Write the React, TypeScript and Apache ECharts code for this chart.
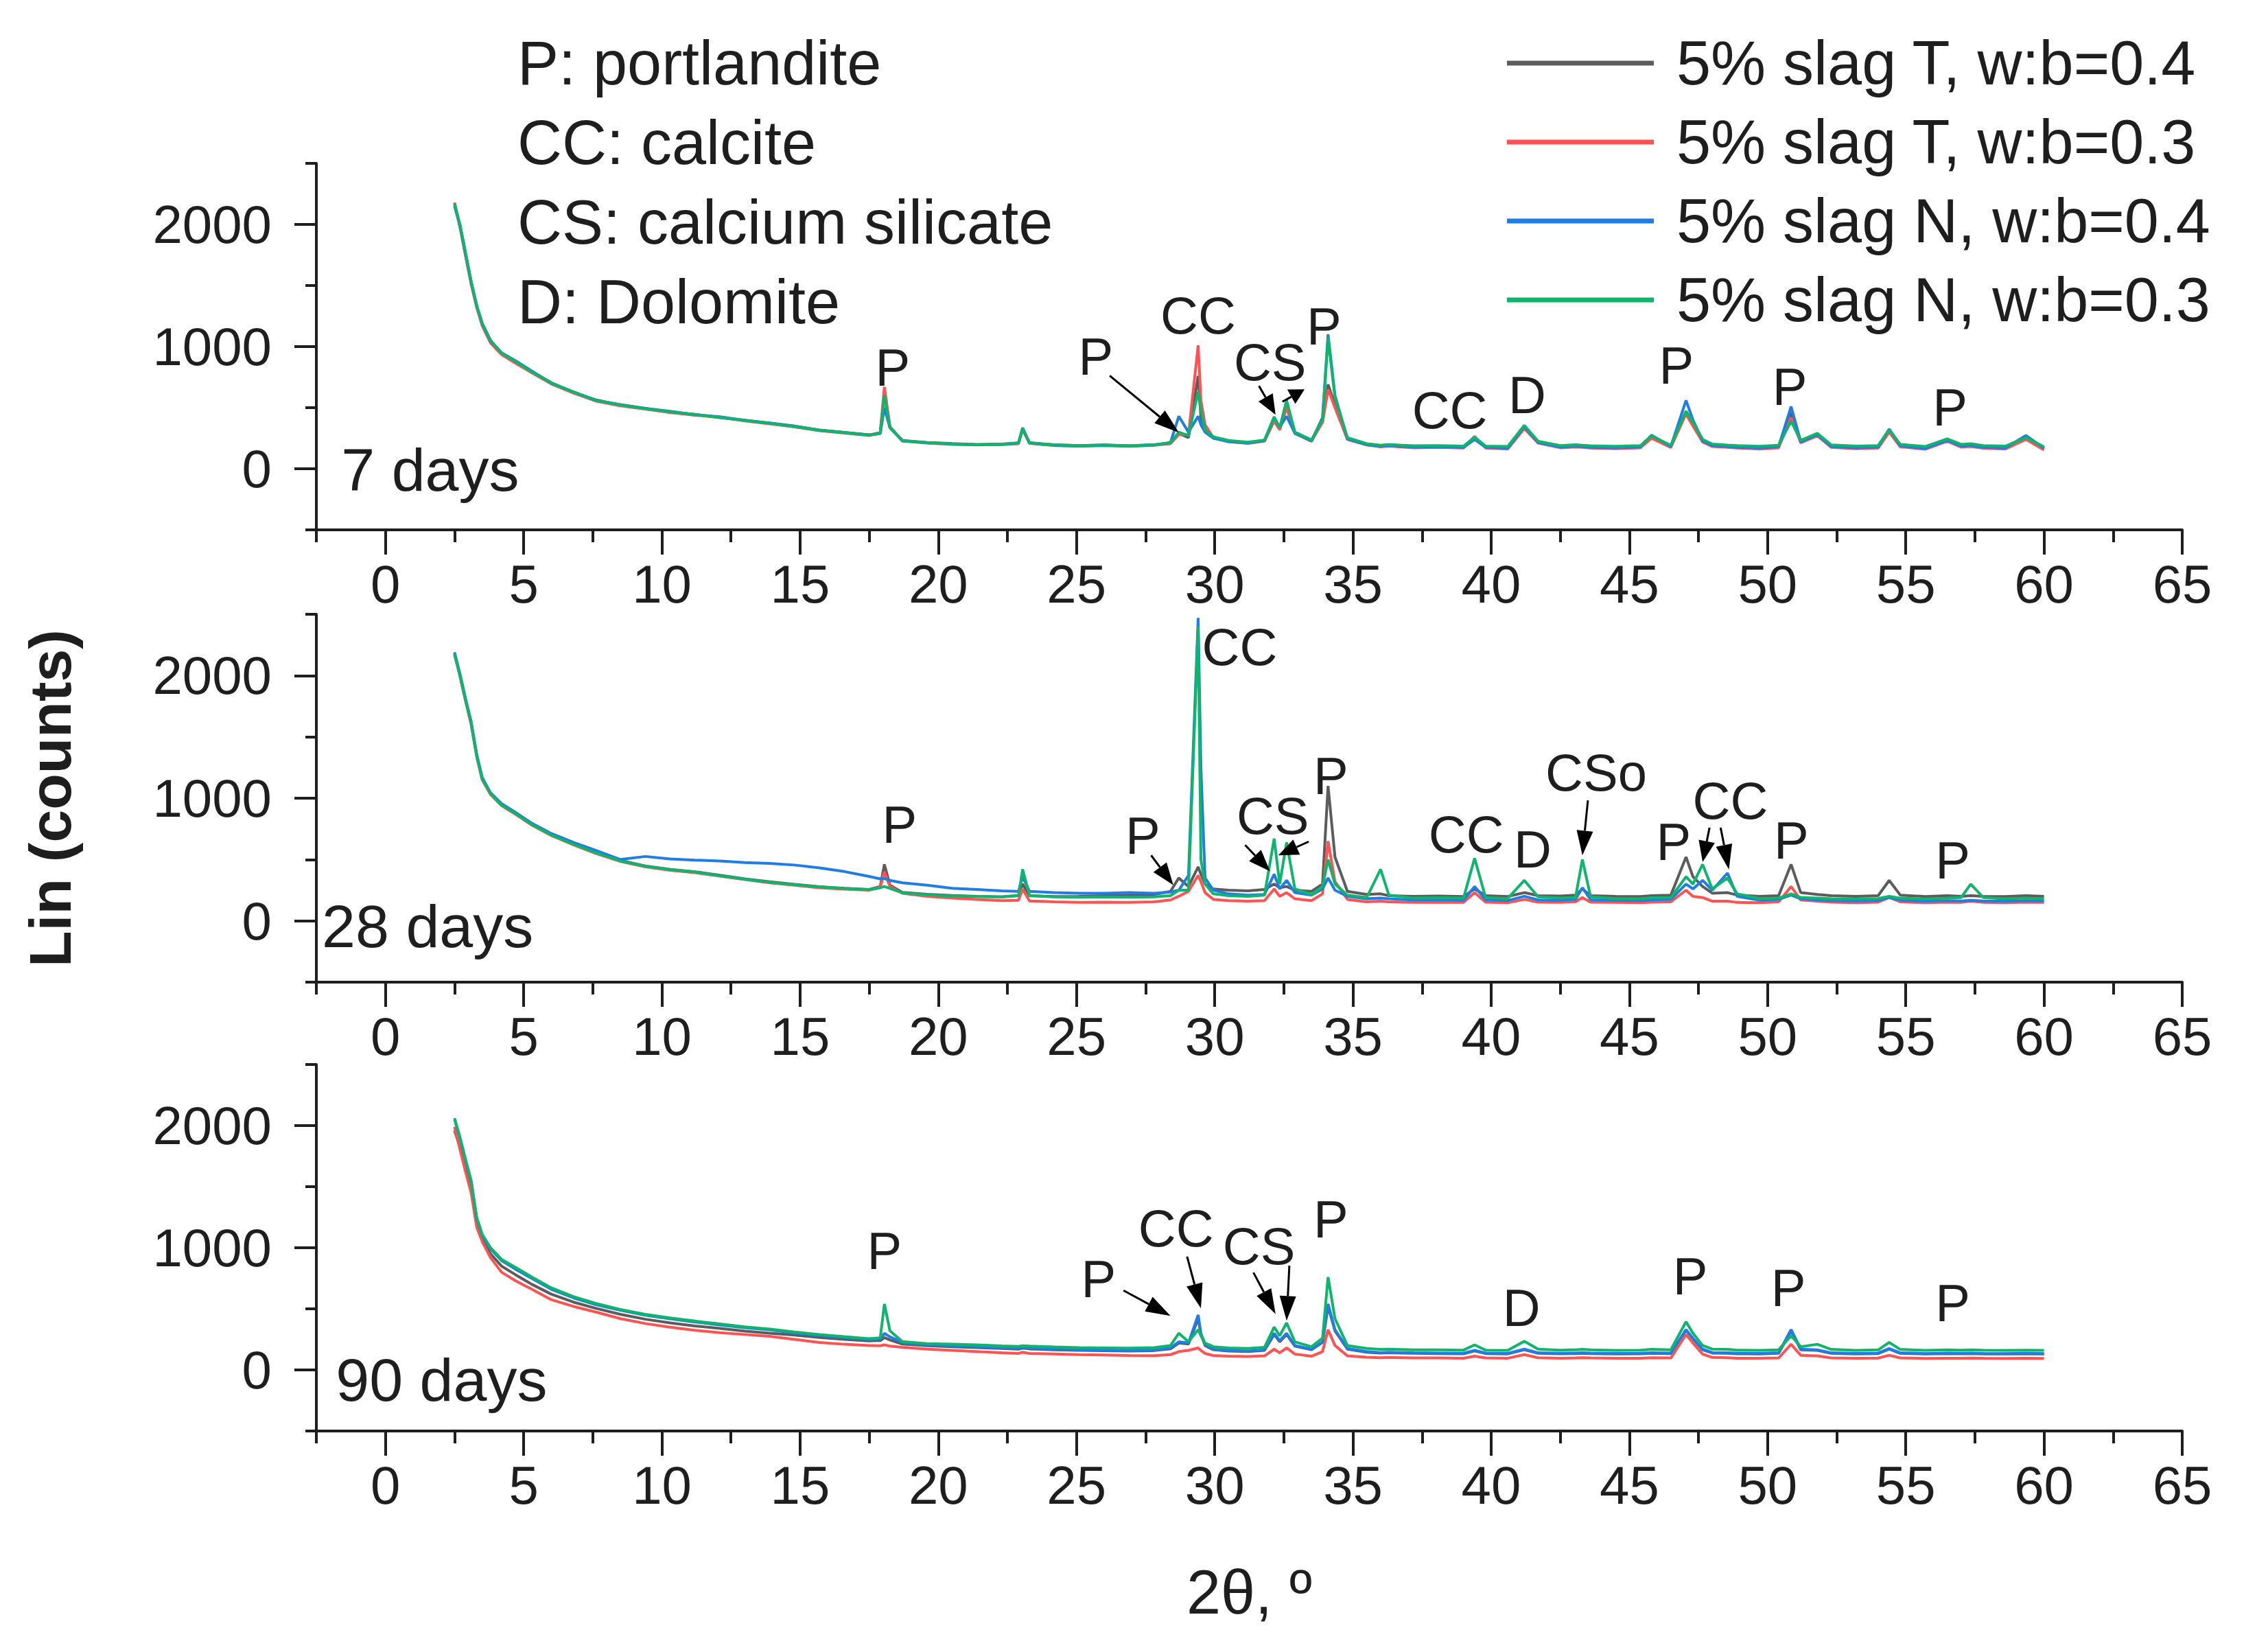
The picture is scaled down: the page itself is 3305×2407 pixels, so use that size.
import React, { useEffect, useRef } from "react";
import * as echarts from "echarts";

// 2θ sampling positions shared by every trace
const twoTheta = [
  2.5, 2.7, 2.9, 3.1, 3.3, 3.5, 3.8, 4.2, 4.7, 5.3,
  6.0, 6.8, 7.6, 8.5, 9.4, 10.3, 11.2, 12.1, 13.0, 13.9,
  14.8, 15.7, 16.6, 17.5, 17.9, 18.05, 18.25, 18.7, 19.6, 20.5,
  21.4, 22.3, 22.9, 23.05, 23.3, 24.2, 25.1, 26.0, 26.9, 27.8,
  28.4, 28.7, 29.05, 29.4, 29.5, 29.65, 29.95, 30.5, 31.2, 31.8,
  32.15, 32.35, 32.6, 32.9, 33.5, 33.9, 34.1, 34.35, 34.8, 35.5,
  36.0, 36.3, 37.2, 38.1, 39.0, 39.4, 39.8, 40.6, 41.2, 41.7,
  42.5, 43.05, 43.3, 43.6, 44.5, 45.4, 45.8, 46.5, 47.05, 47.3,
  47.65, 48.0, 48.55, 48.9, 49.7, 50.4, 50.85, 51.2, 51.8, 52.3,
  53.2, 54.0, 54.4, 54.8, 55.7, 56.5, 57.0, 57.35, 57.8, 58.6,
  59.35, 60.0,
];

// 7 days
const d7SlagT04 = [
  2160, 1990, 1760, 1530, 1330, 1190, 1050, 945, 880, 795,
  705, 625, 565, 520, 495, 462, 445, 418, 398, 372,
  348, 318, 298, 278, 292, 620, 340, 232, 215, 206,
  198, 202, 212, 325, 214, 196, 190, 195, 188, 196,
  212, 290, 255, 760, 420, 330, 258, 228, 214, 232,
  400, 330, 520, 300, 232, 390, 690, 520, 250, 202,
  190, 196, 184, 186, 180, 250, 182, 174, 340, 222,
  186, 192, 188, 184, 178, 186, 265, 188, 470, 370,
  235, 198, 190, 184, 178, 188, 460, 228, 285, 190,
  180, 184, 315, 196, 174, 238, 194, 198, 184, 178,
  258, 170,
];
const d7SlagT03 = [
  2180, 1970, 1740, 1510, 1320, 1170, 1030, 935, 865, 785,
  695, 620, 555, 515, 488, 460, 438, 422, 392, 368,
  342, 312, 292, 272, 300, 670, 345, 228, 210, 200,
  195, 198, 205, 320, 208, 190, 186, 190, 185, 192,
  205, 280, 280, 1010, 560, 360, 255, 222, 208, 226,
  390, 320, 500, 290, 225, 380, 650, 500, 240, 195,
  180, 186, 172, 175, 170, 265, 170, 162, 330, 210,
  172, 178, 176, 170, 165, 172, 250, 175, 450, 350,
  220, 182, 176, 170, 162, 172, 420, 212, 270, 176,
  165, 170, 300, 180, 160, 225, 178, 182, 168, 162,
  240, 155,
];
const d7SlagN04 = [
  2150, 1985, 1750, 1525, 1340, 1185, 1045, 950, 885, 800,
  700, 630, 560, 525, 495, 470, 442, 425, 396, 375,
  350, 315, 296, 275, 288, 500, 335, 228, 212, 202,
  196, 200, 208, 335, 210, 192, 185, 192, 184, 194,
  215, 430, 300, 430, 360, 300, 250, 222, 210, 230,
  420, 340, 430, 290, 228, 420, 1100, 600, 245, 196,
  185, 190, 178, 180, 175, 240, 176, 168, 345, 215,
  178, 186, 182, 176, 172, 180, 275, 182, 560, 400,
  228, 190, 182, 176, 170, 182, 510, 220, 280, 182,
  172, 178, 325, 188, 166, 232, 186, 190, 176, 170,
  272, 168,
];
const d7SlagN03 = [
  2170, 1995, 1765, 1535, 1335, 1190, 1050, 948, 878, 792,
  702, 628, 562, 522, 492, 466, 444, 420, 395, 372,
  346, 316, 296, 276, 290, 600, 338, 230, 214, 204,
  198, 201, 210, 330, 212, 195, 190, 194, 188, 197,
  212, 300, 270, 630, 480, 320, 262, 232, 218, 235,
  425, 335, 560, 300, 235, 400, 1070, 580, 255, 205,
  192, 198, 188, 190, 185, 258, 186, 182, 355, 225,
  190, 196, 192, 188, 184, 190, 268, 192, 470, 380,
  240, 202, 194, 190, 184, 192, 390, 232, 290, 195,
  186, 190, 320, 200, 182, 245, 200, 205, 190, 185,
  255, 180,
];

// 28 days
const d28SlagT04 = [
  2170, 2000, 1800, 1610, 1350, 1160, 1035, 950, 880, 790,
  705, 630, 560, 492, 448, 420, 400, 372, 342, 318,
  298, 278, 266, 256, 280, 460, 290, 232, 216, 206,
  200, 196, 206, 300, 205, 198, 200, 205, 210, 215,
  240, 350, 280, 440, 380, 300, 260, 250, 245, 255,
  300, 270, 280, 250, 240, 300, 1100, 520, 240, 215,
  220, 205, 200, 202, 198, 260, 205, 198, 230, 205,
  202, 210, 260, 205, 200, 198, 205, 210, 520, 360,
  280, 225, 230, 210, 200, 205, 460, 230, 215, 205,
  200, 205, 330, 210, 198, 205, 200, 205, 200, 198,
  205, 200,
];
const d28SlagT03 = [
  2180, 1990, 1790, 1600, 1340, 1150, 1030, 940, 870, 780,
  695, 620, 550, 485, 440, 412, 392, 365, 336, 310,
  290, 270, 258, 250, 275, 400, 280, 225, 200, 185,
  175, 165, 168, 260, 162, 155, 150, 152, 150, 155,
  170, 200, 240, 370, 320, 230, 175, 165, 160, 165,
  260, 200, 230, 180, 165, 220, 650, 320, 175, 155,
  160, 155, 150, 152, 150, 230, 152, 148, 175, 152,
  150, 155, 190, 152, 150, 148, 152, 155, 250, 200,
  190, 160, 160, 150, 148, 155, 280, 170, 160, 152,
  148, 152, 190, 155, 148, 152, 150, 160, 150, 148,
  152, 150,
];
const d28SlagN04 = [
  2190, 2010, 1810, 1625, 1360, 1170, 1045, 955, 885, 795,
  712, 640, 575, 500, 525, 505, 495, 488, 475, 468,
  455, 432, 402, 362, 342, 345, 330, 310, 290, 265,
  255, 245, 240, 360, 240, 230, 225, 225, 230, 225,
  235, 250, 370, 2470, 1250, 350, 250, 220, 210, 215,
  380, 260, 330, 230, 210, 260, 350, 250, 200, 180,
  185, 180, 170, 172, 168, 280, 172, 165, 200, 170,
  168, 175, 270, 172, 168, 165, 172, 175, 300, 260,
  330, 250, 390, 200, 168, 175, 210, 180, 170, 165,
  162, 165, 190, 168, 160, 165, 162, 168, 162, 160,
  165, 162,
];
const d28SlagN03 = [
  2175, 1995, 1795, 1615, 1345, 1155, 1040, 945, 875, 785,
  700, 625, 556, 488, 445, 418, 398, 368, 340, 315,
  295, 276, 264, 254, 270, 280, 265, 228, 212, 202,
  198, 195, 205, 420, 205, 195, 192, 195, 192, 196,
  205, 250, 250, 2400, 500, 300, 220, 205, 200, 210,
  670, 300, 640, 260, 215, 280, 500, 300, 210, 190,
  420, 210, 185, 188, 185, 510, 190, 182, 330, 195,
  185, 190, 500, 195, 182, 180, 188, 190, 360, 300,
  460, 260, 350, 220, 182, 185, 220, 190, 185, 180,
  178, 182, 200, 185, 178, 185, 190, 300, 190, 180,
  185, 180,
];

// 90 days
const d90SlagT04 = [
  1960, 1820, 1650, 1480, 1200, 1070, 950, 850, 780, 700,
  620, 555, 505, 455, 415, 385, 360, 340, 318, 300,
  285, 265, 250, 238, 240, 265, 245, 212, 198, 190,
  182, 175, 170, 178, 172, 165, 160, 157, 155, 158,
  172, 220, 212, 420, 290, 200, 165, 155, 150, 160,
  290, 230, 290, 195, 165, 225, 520, 320, 170, 145,
  138, 140, 136, 134, 132, 155, 134, 131, 165, 136,
  132, 134, 136, 134, 131, 132, 136, 134, 325, 255,
  165, 138, 136, 132, 131, 136, 320, 165, 160, 136,
  131, 134, 170, 136, 130, 134, 132, 134, 131, 130,
  132, 130,
];
const d90SlagT03 = [
  1990, 1800, 1620, 1450, 1170, 1050, 920, 800, 730, 660,
  575, 520, 475, 420, 380, 350, 325, 305, 290, 275,
  250, 225, 210, 200, 198, 205, 195, 185, 170, 160,
  150, 140, 135, 145, 135, 130, 125, 122, 118, 116,
  125, 150, 160, 180, 160, 135, 118, 112, 110, 115,
  170, 140, 180, 130, 112, 150, 330, 200, 115, 104,
  100, 102, 98, 98, 96, 112, 98, 96, 125, 100,
  96, 98, 100, 98, 95, 96, 100, 98, 290, 220,
  130, 102, 100, 96, 95, 98, 210, 120, 115, 98,
  95, 97, 120, 98, 94, 96, 95, 97, 95, 94,
  96, 94,
];
const d90SlagN04 = [
  2050, 1895, 1715, 1545, 1240, 1100, 990, 895, 825, 748,
  660, 590, 535, 488, 448, 418, 392, 368, 345, 328,
  302, 282, 265, 250, 255, 300, 270, 225, 205, 198,
  190, 182, 178, 185, 180, 172, 165, 162, 160, 165,
  180, 230, 220, 450, 300, 210, 170, 160, 155, 165,
  300, 240, 300, 200, 170, 230, 540, 330, 175, 150,
  142, 145, 140, 138, 136, 160, 138, 135, 170, 140,
  136, 138, 140, 138, 135, 136, 140, 138, 330, 260,
  170, 142, 140, 136, 135, 140, 330, 170, 165, 140,
  135, 138, 175, 140, 134, 138, 136, 138, 135, 134,
  136, 134,
];
const d90SlagN03 = [
  2060, 1900, 1720, 1550, 1250, 1110, 1000, 905, 840, 760,
  672, 600, 545, 495, 455, 425, 400, 376, 352, 335,
  310, 290, 272, 256, 262, 540, 320, 232, 215, 210,
  205, 196, 192, 198, 195, 188, 182, 180, 178, 182,
  200, 300, 230, 330, 280, 220, 190, 180, 175, 185,
  350, 280, 385, 230, 190, 260, 760, 420, 200, 175,
  168, 170, 165, 164, 162, 205, 162, 160, 235, 170,
  162, 165, 168, 164, 160, 162, 168, 165, 395, 300,
  200, 170, 168, 162, 160, 165, 280, 190, 210, 168,
  160, 164, 225, 168, 160, 165, 162, 165, 162, 160,
  162, 160,
];

const seriesNames = [
  "5% slag T, w:b=0.4",
  "5% slag T, w:b=0.3",
  "5% slag N, w:b=0.4",
  "5% slag N, w:b=0.3",
];
const seriesColors = ["#5c5c5c", "#ff5252", "#1f7de6", "#0fb56c"];

const panelTraces = [
  [d7SlagT04, d7SlagT03, d7SlagN04, d7SlagN03],
  [d28SlagT04, d28SlagT03, d28SlagN04, d28SlagN03],
  [d90SlagT04, d90SlagT03, d90SlagN04, d90SlagN03],
];

const xMajorTicks = [0, 5, 10, 15, 20, 25, 30, 35, 40, 45, 50, 55, 60, 65];
const xMinorTicks = [-2.5, 2.5, 7.5, 12.5, 17.5, 22.5, 27.5, 32.5, 37.5, 42.5, 47.5, 52.5, 57.5, 62.5];
const yMajorTicks = [0, 1000, 2000];
const yMinorTicks = [-500, 500, 1500, 2500];

// panel name, anchored in data units (left edge, middle)
const panelNames = [
  { text: "7 days", x: -1.6, y: -10 },
  { text: "28 days", x: -2.3, y: -45 },
  { text: "90 days", x: -1.8, y: -82 },
];

const phaseKey = ["P: portlandite", "CC: calcite", "CS: calcium silicate", "D: Dolomite"];

// peak labels (text centre in data units)
const peakLabels = [
  [
    { text: "P", x: 18.35, y: 830 },
    { text: "P", x: 25.7, y: 920 },
    { text: "CC", x: 29.4, y: 1255 },
    { text: "CS", x: 32.0, y: 874 },
    { text: "P", x: 33.95, y: 1165 },
    { text: "CC", x: 38.5, y: 482 },
    { text: "D", x: 41.3, y: 605 },
    { text: "P", x: 46.7, y: 846 },
    { text: "P", x: 50.8, y: 672 },
    { text: "P", x: 56.6, y: 504 },
  ],
  [
    { text: "P", x: 18.6, y: 787 },
    { text: "P", x: 27.4, y: 697 },
    { text: "CC", x: 30.9, y: 2236 },
    { text: "CS", x: 32.1, y: 860 },
    { text: "P", x: 34.2, y: 1180 },
    { text: "CC", x: 39.1, y: 708 },
    { text: "D", x: 41.5, y: 584 },
    { text: "CSo", x: 43.8, y: 1208 },
    { text: "P", x: 46.6, y: 646 },
    { text: "CC", x: 48.65, y: 983 },
    { text: "P", x: 50.86, y: 657 },
    { text: "P", x: 56.7, y: 494 },
  ],
  [
    { text: "P", x: 18.05, y: 975 },
    { text: "P", x: 25.8, y: 743 },
    { text: "CC", x: 28.6, y: 1160 },
    { text: "CS", x: 31.6, y: 1014 },
    { text: "P", x: 34.2, y: 1234 },
    { text: "D", x: 41.1, y: 511 },
    { text: "P", x: 47.2, y: 765 },
    { text: "P", x: 50.75, y: 670 },
    { text: "P", x: 56.7, y: 550 },
  ],
];

// pointer arrows: [from, to] in data units
const peakArrows = [
  [
    [[26.2, 762], [28.7, 297]],
    [[31.6, 678], [32.2, 443]],
    [[32.45, 549], [33.25, 650]],
  ],
  [
    [[27.7, 534], [28.5, 292]],
    [[31.1, 618], [32.0, 404]],
    [[33.4, 646], [32.3, 534]],
    [[43.5, 983], [43.3, 534]],
    [[47.9, 760], [47.65, 480]],
    [[48.3, 760], [48.6, 420]],
  ],
  [
    [[26.7, 650], [28.4, 443]],
    [[29.0, 928], [29.5, 504]],
    [[31.4, 797], [32.2, 458]],
    [[32.7, 853], [32.6, 403]],
  ],
];

const FONT = '"Liberation Sans", Arial, Helvetica, sans-serif';
const INK = "#1e1e1e";
const gridTops = [238, 895, 1551];
const gridHeights = [534, 536, 534];

const App: React.FC = () => {
  const chartRef = useRef<HTMLDivElement>(null);

  useEffect(() => {
    document.body.style.margin = "0";
    if (!chartRef.current) return;
    const chart = echarts.init(chartRef.current, null, { renderer: "svg" });

    const xAxes: any[] = [];
    const yAxes: any[] = [];
    gridTops.forEach((_, i) => {
      xAxes.push({
        type: "value",
        gridIndex: i,
        position: "bottom",
        min: -2.5,
        max: 65,
        axisLine: { show: true, onZero: false, lineStyle: { color: INK, width: 4 } },
        axisTick: { show: true, customValues: xMajorTicks, length: 36, lineStyle: { color: INK, width: 4 } },
        axisLabel: {
          customValues: xMajorTicks,
          margin: 40,
          fontSize: 78,
          color: INK,
          fontFamily: FONT,
          formatter: (v: number) => String(v),
        },
        splitLine: { show: false },
        ...(i === 2
          ? {
              name: "2θ, º",
              nameLocation: "middle",
              nameGap: 190,
              nameTextStyle: { fontSize: 90, color: INK, fontFamily: FONT },
            }
          : {}),
      });
      xAxes.push({
        type: "value",
        gridIndex: i,
        position: "bottom",
        min: -2.5,
        max: 65,
        axisLine: { show: false, onZero: false },
        axisTick: { show: true, customValues: xMinorTicks, length: 18, lineStyle: { color: INK, width: 4 } },
        axisLabel: { show: false },
        splitLine: { show: false },
      });
      yAxes.push({
        type: "value",
        gridIndex: i,
        position: "left",
        min: -500,
        max: 2500,
        axisLine: { show: true, onZero: false, lineStyle: { color: INK, width: 4 } },
        axisTick: { show: true, customValues: yMajorTicks, length: 32, lineStyle: { color: INK, width: 4 } },
        axisLabel: {
          customValues: yMajorTicks,
          margin: 65,
          fontSize: 78,
          color: INK,
          fontFamily: FONT,
          formatter: (v: number) => String(v),
        },
        splitLine: { show: false },
        ...(i === 1
          ? {
              name: "Lin (counts)",
              nameLocation: "middle",
              nameGap: 345,
              nameTextStyle: { fontSize: 86, fontWeight: "bold", color: INK, fontFamily: FONT },
            }
          : {}),
      });
      yAxes.push({
        type: "value",
        gridIndex: i,
        position: "left",
        min: -500,
        max: 2500,
        axisLine: { show: false, onZero: false },
        axisTick: { show: true, customValues: yMinorTicks, length: 16, lineStyle: { color: INK, width: 4 } },
        axisLabel: { show: false },
        splitLine: { show: false },
      });
    });

    const series: any[] = [];
    panelTraces.forEach((traces, p) => {
      traces.forEach((values, s) => {
        series.push({
          name: seriesNames[s],
          type: "line",
          xAxisIndex: p * 2,
          yAxisIndex: p * 2,
          data: twoTheta.map((t, k) => [t, values[k]]),
          symbol: "none",
          showSymbol: false,
          lineStyle: { width: 4, color: seriesColors[s] },
          itemStyle: { color: seriesColors[s] },
        });
      });
    });

    chart.setOption({
      animation: false,
      backgroundColor: "#ffffff",
      grid: gridTops.map((top, i) => ({ left: 461, width: 2719, top, height: gridHeights[i] })),
      xAxis: xAxes,
      yAxis: yAxes,
      legend: {
        data: seriesNames,
        orient: "vertical",
        left: 2196,
        top: 42,
        padding: 0,
        icon: "rect",
        itemWidth: 214,
        itemHeight: 7,
        itemGap: 15,
        textStyle: { fontSize: 90, lineHeight: 100, color: INK, fontFamily: FONT, padding: [0, 0, 0, 28] },
      },
      series,
    });

    // annotations placed through the axes
    const elements: any[] = [];
    const toPx = (p: number, pt: number[]) =>
      chart.convertToPixel({ xAxisIndex: p * 2, yAxisIndex: p * 2 }, pt) as number[];

    phaseKey.forEach((text, i) => {
      elements.push({
        type: "text",
        style: { text, x: 754, y: 92 + i * 116, fontSize: 90, fontFamily: FONT, fill: INK, align: "left", verticalAlign: "middle" },
      });
    });

    panelNames.forEach((lab, p) => {
      const [x, y] = toPx(p, [lab.x, lab.y]);
      elements.push({
        type: "text",
        style: { text: lab.text, x, y, fontSize: 88, fontFamily: FONT, fill: INK, align: "left", verticalAlign: "middle" },
      });
    });

    peakLabels.forEach((labels, p) => {
      labels.forEach((lab) => {
        const [x, y] = toPx(p, [lab.x, lab.y]);
        elements.push({
          type: "text",
          z: 10,
          style: { text: lab.text, x, y, fontSize: 76, fontFamily: FONT, fill: INK, align: "center", verticalAlign: "middle" },
        });
      });
    });

    peakArrows.forEach((arrows, p) => {
      arrows.forEach(([from, to]) => {
        const a = toPx(p, from);
        const b = toPx(p, to);
        const dx = b[0] - a[0];
        const dy = b[1] - a[1];
        const len = Math.hypot(dx, dy) || 1;
        const ux = dx / len;
        const uy = dy / len;
        const head = Math.min(36, len * 0.6);
        const half = 12;
        const bx = b[0] - ux * head;
        const by = b[1] - uy * head;
        elements.push({
          type: "line",
          z: 10,
          shape: { x1: a[0], y1: a[1], x2: bx, y2: by },
          style: { stroke: "#000", lineWidth: 3 },
        });
        elements.push({
          type: "polygon",
          z: 10,
          shape: {
            points: [
              [b[0], b[1]],
              [bx - uy * half, by + ux * half],
              [bx + uy * half, by - ux * half],
            ],
          },
          style: { fill: "#000" },
        });
      });
    });

    chart.setOption({ graphic: { elements } });

    return () => {
      chart.dispose();
    };
  }, []);

  return <div ref={chartRef} style={{ width: "3305px", height: "2407px" }} />;
};

export default App;
